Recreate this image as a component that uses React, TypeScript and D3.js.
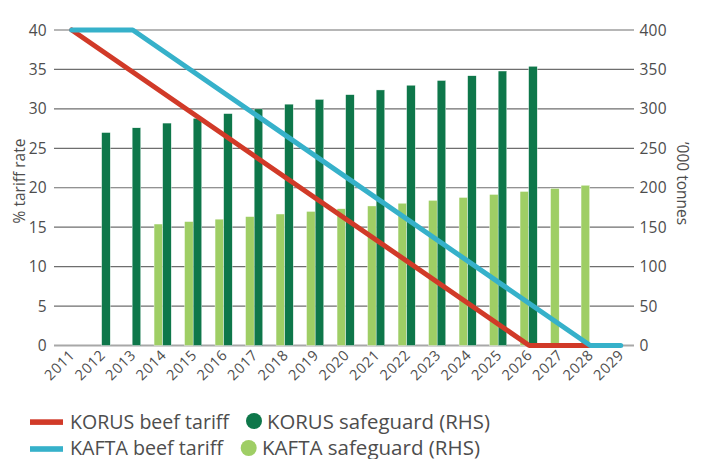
import React from "react";
import * as d3 from "d3";

const years = d3.range(2011, 2030).map(String);
const korusTariff: [string, number][] = [
  ["2011", 40], ["2026", 0], ["2027", 0], ["2028", 0],
];
const kaftaTariff: [string, number][] = [
  ["2011", 40], ["2012", 40], ["2013", 40], ["2028", 0], ["2029", 0],
];
const korusYears = d3.range(2012, 2027).map(String);
const korusSafeguard = [270, 276, 282, 288, 294, 300, 306, 312, 318, 324, 330, 336, 342, 348, 354];
const kaftaYears = d3.range(2014, 2029).map(String);
const kaftaSafeguard = [154, 157.1, 160.2, 163.4, 166.7, 170.0, 173.4, 176.9, 180.4, 184.0, 187.7, 191.5, 195.3, 199.2, 203.2];
const leftTicks = [0, 5, 10, 15, 20, 25, 30, 35, 40];
const rightTicks = [0, 50, 100, 150, 200, 250, 300, 350, 400];

const W = 705, H = 459;
const RED = "#d13a28", BLUE = "#36b1ca", DARK = "#0e774a", LIGHT = "#9fce65";
const TEXT = "#4d4d4d";
const FONT = "'Open Sans', Lato, sans-serif";

export default function App() {
  const x = d3.scaleBand<string>().domain(years).range([56.5, 636]).padding(0);
  const cx = (y: string) => (x(y) as number) + x.bandwidth() / 2;
  const yL = d3.scaleLinear().domain([0, 40]).range([345.5, 30]);
  const yR = d3.scaleLinear().domain([0, 400]).range([345.5, 30]);
  const line = d3.line<[string, number]>().x(d => cx(d[0])).y(d => yL(d[1]));
  const barW = 8.6;

  return (
    <svg width={W} height={H} style={{ position: "absolute", left: 0, top: 0, background: "#fff" }} fontFamily={FONT}>
      {leftTicks.map(t => (
        <line key={t} x1={54} x2={634} y1={yL(t)} y2={yL(t)}
          stroke={t === 0 ? "#a8a8a8" : "#6e6e6e"} strokeWidth={t === 0 ? 2 : 1.2} />
      ))}
      {leftTicks.map(t => (
        <text key={t} x={46.5} y={yL(t)} dy="0.36em" textAnchor="end" fontSize={15.5} fill={TEXT}>{t}</text>
      ))}
      {rightTicks.map(t => (
        <text key={t} x={639.5} y={yR(t)} dy="0.36em" textAnchor="start" fontSize={15.5} letterSpacing={0.2} fill={TEXT}>{t}</text>
      ))}
      <text transform="translate(24.5,181) rotate(-90)" textAnchor="middle" fontSize={15.5} fill={TEXT}>% tariff rate</text>
      <text transform="translate(677,183.5) rotate(90)" textAnchor="middle" fontSize={15.5} fill={TEXT}>’000 tonnes</text>
      {kaftaYears.map((y, i) => (
        <rect key={"k" + y} x={cx(y) - barW - 0.6} width={barW} y={yR(kaftaSafeguard[i])}
          height={yR(0) - yR(kaftaSafeguard[i])} fill={LIGHT} stroke="#fff" strokeWidth={0.4} />
      ))}
      {korusYears.map((y, i) => (
        <rect key={"d" + y} x={cx(y) - 0.6} width={barW} y={yR(korusSafeguard[i])}
          height={yR(0) - yR(korusSafeguard[i])} fill={DARK} stroke="#fff" strokeWidth={0.4} />
      ))}
      <path d={line(korusTariff) as string} fill="none" stroke={RED} strokeWidth={5} strokeLinecap="round" strokeLinejoin="round" />
      <path d={line(kaftaTariff) as string} fill="none" stroke={BLUE} strokeWidth={5} strokeLinecap="round" strokeLinejoin="round" />
      {years.map(y => (
        <text key={y} transform={`translate(${cx(y) + 4},${356}) rotate(-45)`} textAnchor="end" fontSize={14.5} letterSpacing={0.6} fill={TEXT}>{y}</text>
      ))}
      <g fontSize={19.5} fill={TEXT}>
        <rect x={30} y={419.3} width={33} height={5.6} fill={RED} />
        <text x={70} y={429} textLength={159} lengthAdjust="spacingAndGlyphs">KORUS beef tariff</text>
        <circle cx={254} cy={421} r={8} fill={DARK} />
        <text x={267} y={429} textLength={223} lengthAdjust="spacingAndGlyphs">KORUS safeguard (RHS)</text>
        <rect x={30} y={446.2} width={33} height={5.6} fill={BLUE} />
        <text x={70} y={455.3} textLength={153} lengthAdjust="spacingAndGlyphs">KAFTA beef tariff</text>
        <circle cx={248.7} cy={448} r={8} fill={LIGHT} />
        <text x={262} y={455.3} textLength={218} lengthAdjust="spacingAndGlyphs">KAFTA safeguard (RHS)</text>
      </g>
    </svg>
  );
}
